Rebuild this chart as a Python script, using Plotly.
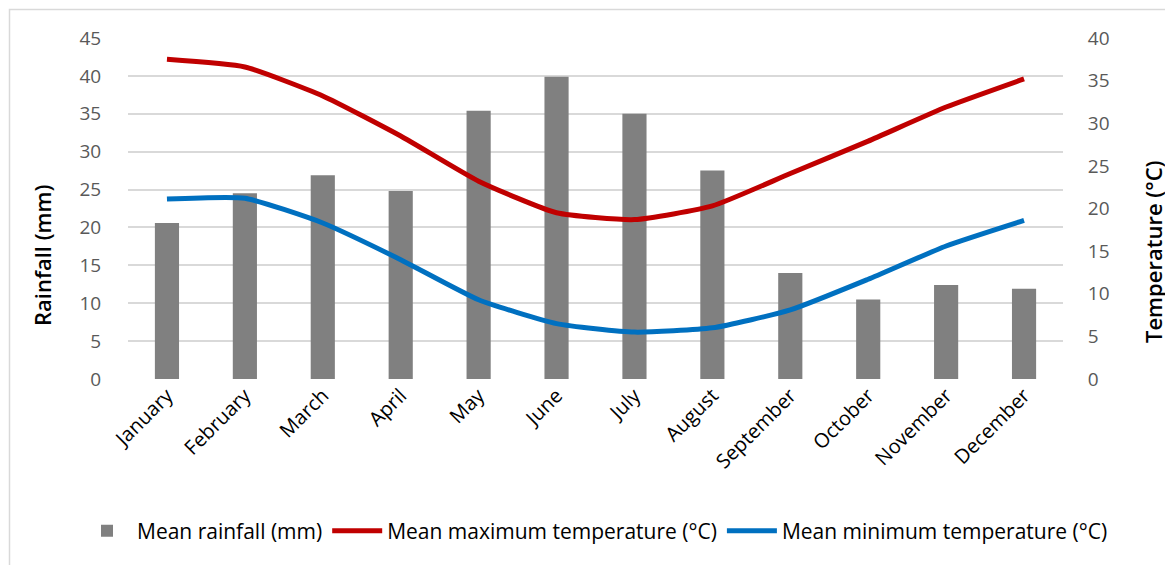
import plotly.graph_objects as go

months = ["January", "February", "March", "April", "May", "June", "July",
          "August", "September", "October", "November", "December"]
rainfall = [20.6, 24.5, 26.9, 24.8, 35.4, 39.9, 35.0, 27.5, 14.0, 10.5, 12.4, 11.9]
tmax = [37.5, 36.6, 33.2, 28.5, 23.2, 19.5, 18.7, 20.3, 24.1, 27.9, 31.9, 35.2]
tmin = [21.1, 21.2, 18.3, 14.0, 9.3, 6.5, 5.5, 6.0, 8.1, 11.7, 15.6, 18.6]

# page body has an 8px margin; work in viewport coordinates and shift
OFF = 8
W, H = 1165, 557
L_v, R_v, T_v, B_v = 128, 1063, 38, 379  # plot area in viewport px
L, T = L_v - OFF, T_v - OFF
R = W - (R_v - OFF)
B = H - (B_v - OFF)
pw, ph = R_v - L_v, B_v - T_v

def px(x):
    return (x - L_v) / pw

def py(y):
    return (B_v - y) / ph

FONT = "Open Sans"
fig = go.Figure()
fig.add_trace(go.Bar(x=months, y=rainfall, name="Mean rainfall (mm)",
                     marker=dict(color="#808080", line=dict(width=0)),
                     width=0.31, yaxis="y"))
fig.add_trace(go.Scatter(x=months, y=tmax, name="Mean maximum temperature (°C)",
                         mode="lines", line=dict(color="#C00000", width=5,
                                                 shape="spline", smoothing=0.5),
                         yaxis="y2"))
fig.add_trace(go.Scatter(x=months, y=tmin, name="Mean minimum temperature (°C)",
                         mode="lines", line=dict(color="#0070C0", width=5,
                                                 shape="spline", smoothing=0.5),
                         yaxis="y2"))

fig.update_layout(
    width=W, height=H,
    margin=dict(l=L, r=R, t=T, b=B),
    paper_bgcolor="white", plot_bgcolor="white",
    font=dict(family=FONT, color="#595959", size=19),
    showlegend=True,
    legend=dict(orientation="h", x=px(77), y=py(531), xanchor="left", yanchor="middle",
                font=dict(family=FONT, size=21, color="#000000"),
                itemwidth=50, traceorder="normal", tracegroupgap=0),
    xaxis=dict(tickangle=-45, showgrid=False, showline=False, ticks="",
               tickfont=dict(family=FONT, size=20, color="#000000")),
    yaxis=dict(range=[0, 45], dtick=5, showgrid=True, gridcolor="#D9D9D9",
               gridwidth=1.5, zeroline=False, showline=False, ticks="outside",
               ticklen=22, tickcolor="rgba(0,0,0,0)",
               tickfont=dict(family=FONT, size=19, color="#595959")),
    yaxis2=dict(range=[0, 40], dtick=5, overlaying="y", side="right",
                showgrid=False, zeroline=False, showline=False, ticks="outside",
                ticklen=20, tickcolor="rgba(0,0,0,0)",
                tickfont=dict(family=FONT, size=19, color="#595959")),
    bargap=0.69,
    annotations=[
        dict(text="Rainfall (mm)", x=px(42), y=py(255), xref="paper", yref="paper",
             textangle=-90, showarrow=False, xanchor="center", yanchor="middle",
             font=dict(family=FONT, size=22, color="#000000", weight=600)),
        dict(text="Temperature (°C)", x=px(1153), y=py(252), xref="paper", yref="paper",
             textangle=-90, showarrow=False, xanchor="center", yanchor="middle",
             font=dict(family=FONT, size=22, color="#000000", weight=600)),
    ],
    shapes=[dict(type="rect", xref="paper", yref="paper",
                 x0=px(9.5), x1=px(1200), y0=py(600), y1=py(9.5),
                 line=dict(color="#D9D9D9", width=1.5), fillcolor="rgba(0,0,0,0)",
                 layer="below")],
)

fig.write_html("out.html")
